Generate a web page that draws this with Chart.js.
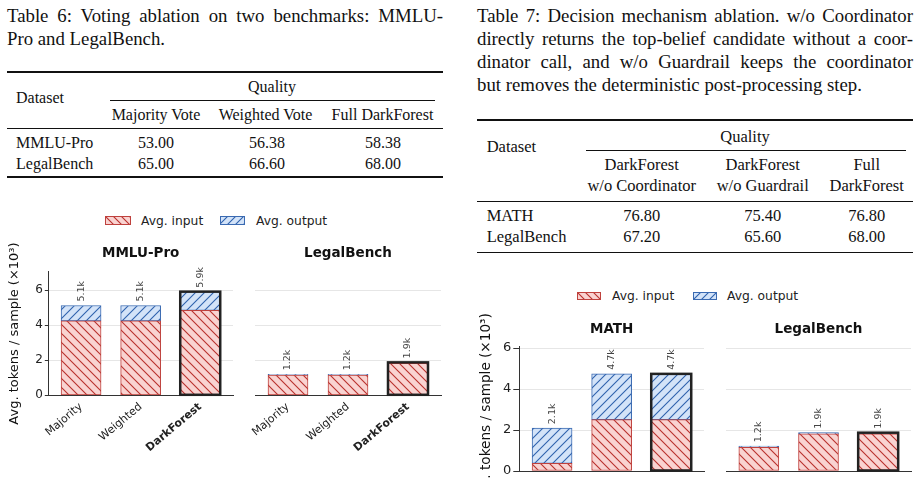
<!DOCTYPE html>
<html>
<head>
<meta charset="utf-8">
<script src="https://cdn.jsdelivr.net/npm/chart.js@4.4.1/dist/chart.umd.min.js"></script>
<style>
html, body { margin: 0; padding: 0; background: #fff; }
body { width: 923px; height: 478px; overflow: hidden; position: relative; }
.cap { position: absolute; font-family: "Liberation Serif", "Times New Roman", serif; color: #111; font-size: 18.8px; line-height: 23px; width: 436px; }
.cap div { text-align: justify; text-align-last: justify; }
.cap div.last { text-align-last: left; }
.t { position: absolute; font-family: "Liberation Serif", "Times New Roman", serif; color: #111; white-space: nowrap; line-height: 1; transform: translate(0, -50%); }
.t.c { transform: translate(-50%, -50%); }
.t6 { font-size: 16px; }
.t7 { font-size: 16.5px; }
.rule { position: absolute; background: #111; }
.lg { position: absolute; font-family: "DejaVu Sans", sans-serif; font-size: 12.3px; color: #222; white-space: nowrap; line-height: 1; transform: translate(0, -50%); }
canvas { position: absolute; }
</style>
</head>
<body>

<div class="cap" style="left:7px; top:3.5px;">
  <div>Table 6: Voting ablation on two benchmarks: MMLU-</div>
  <div class="last">Pro and LegalBench.</div>
</div>

<div class="rule" style="left:7px; top:71px; width:436px; height:1.6px;"></div>
<div class="t t6" style="left:16px; top:97.5px;">Dataset</div>
<div class="t t6 c" style="left:272px; top:87px;">Quality</div>
<div class="rule" style="left:110px; top:100.3px; width:325px; height:0.8px;"></div>
<div class="t t6 c" style="left:156px; top:115px;">Majority Vote</div>
<div class="t t6 c" style="left:265.5px; top:115px;">Weighted Vote</div>
<div class="t t6 c" style="left:382.5px; top:115px;">Full DarkForest</div>
<div class="rule" style="left:7px; top:128.2px; width:436px; height:1px;"></div>
<div class="t t6" style="left:16px; top:143px;">MMLU-Pro</div>
<div class="t t6 c" style="left:156px; top:143px;">53.00</div>
<div class="t t6 c" style="left:267px; top:143px;">56.38</div>
<div class="t t6 c" style="left:383px; top:143px;">58.38</div>
<div class="t t6" style="left:16px; top:164px;">LegalBench</div>
<div class="t t6 c" style="left:156px; top:164px;">65.00</div>
<div class="t t6 c" style="left:267px; top:164px;">66.60</div>
<div class="t t6 c" style="left:383px; top:164px;">68.00</div>
<div class="rule" style="left:7px; top:176.2px; width:436px; height:1.6px;"></div>

<div class="cap" style="left:477px; top:3.5px;">
  <div>Table 7: Decision mechanism ablation. w/o Coordinator</div>
  <div>directly returns the top-belief candidate without a coor-</div>
  <div>dinator call, and w/o Guardrail keeps the coordinator</div>
  <div class="last">but removes the deterministic post-processing step.</div>
</div>

<div class="rule" style="left:477px; top:119.2px; width:436px; height:1.6px;"></div>
<div class="t t7" style="left:486.7px; top:146.7px;">Dataset</div>
<div class="t t7 c" style="left:745px; top:136.7px;">Quality</div>
<div class="rule" style="left:585.7px; top:150.3px; width:320px; height:0.8px;"></div>
<div class="t t7 c" style="left:641.7px; top:165px;">DarkForest</div>
<div class="t t7 c" style="left:762.7px; top:165px;">DarkForest</div>
<div class="t t7 c" style="left:866.7px; top:165px;">Full</div>
<div class="t t7 c" style="left:641.7px; top:186px;">w/o Coordinator</div>
<div class="t t7 c" style="left:762.7px; top:186px;">w/o Guardrail</div>
<div class="t t7 c" style="left:866.7px; top:186px;">DarkForest</div>
<div class="rule" style="left:477px; top:200.5px; width:436px; height:1px;"></div>
<div class="t t7" style="left:486.7px; top:216px;">MATH</div>
<div class="t t7 c" style="left:641.7px; top:216px;">76.80</div>
<div class="t t7 c" style="left:762.7px; top:216px;">75.40</div>
<div class="t t7 c" style="left:866.7px; top:216px;">76.80</div>
<div class="t t7" style="left:486.7px; top:236.7px;">LegalBench</div>
<div class="t t7 c" style="left:641.7px; top:236.7px;">67.20</div>
<div class="t t7 c" style="left:762.7px; top:236.7px;">65.60</div>
<div class="t t7 c" style="left:866.7px; top:236.7px;">68.00</div>
<div class="rule" style="left:477px; top:251.5px; width:436px; height:1.6px;"></div>

<!-- legends -->
<canvas id="swR1" width="26" height="9" style="left:105px; top:216px;"></canvas>
<div class="lg" style="left:141px; top:221px;">Avg. input</div>
<canvas id="swB1" width="25" height="9" style="left:220px; top:216px;"></canvas>
<div class="lg" style="left:256px; top:221px;">Avg. output</div>

<canvas id="swR2" width="24" height="8" style="left:577px; top:292px;"></canvas>
<div class="lg" style="left:612px; top:295.7px;">Avg. input</div>
<canvas id="swB2" width="24" height="8" style="left:693px; top:292px;"></canvas>
<div class="lg" style="left:727px; top:295.7px;">Avg. output</div>

<canvas id="cMmlu" width="240" height="242" style="left:0px; top:236px;"></canvas>
<canvas id="cLegal6" width="246" height="242" style="left:200px; top:236px;"></canvas>
<canvas id="cMath" width="240" height="220" style="left:470px; top:312px;"></canvas>
<canvas id="cLegal7" width="257" height="220" style="left:660px; top:312px;"></canvas>

<script>
// Table 6 figure: voting ablation
const voteLabels = ['Majority', 'Weighted', 'DarkForest'];
const mmluInput = [4.25, 4.25, 4.85];
const mmluOutput = [0.88, 0.88, 1.07];
const legal6Input = [1.15, 1.15, 1.82];
const legal6Output = [0.05, 0.05, 0.06];

// Table 7 figure: decision mechanism ablation
const decisionLabels = ['w/o Coord.', 'w/o Guard.', 'DarkForest'];
const mathInput = [0.37, 2.51, 2.51];
const mathOutput = [1.72, 2.23, 2.23];
const legal7Input = [1.15, 1.81, 1.81];
const legal7Output = [0.06, 0.06, 0.06];

const yTicks = [0, 2, 4, 6];
const seriesNames = ['Avg. input', 'Avg. output'];
const yTitle = 'Avg. tokens / sample (×10³)';

Chart.defaults.font.family = 'DejaVu Sans';

function hatch(bg, fg, back, s) {
  const c = document.createElement('canvas');
  c.width = c.height = s;
  const g = c.getContext('2d');
  g.fillStyle = bg;
  g.fillRect(0, 0, s, s);
  g.strokeStyle = fg;
  g.lineWidth = 1.1;
  g.beginPath();
  if (back) {
    g.moveTo(0, 0); g.lineTo(s, s);
    g.moveTo(-s / 2, s / 2); g.lineTo(s / 2, s * 1.5);
    g.moveTo(s / 2, -s / 2); g.lineTo(s * 1.5, s / 2);
  } else {
    g.moveTo(0, s); g.lineTo(s, 0);
    g.moveTo(-s / 2, s / 2); g.lineTo(s / 2, -s / 2);
    g.moveTo(s / 2, s * 1.5); g.lineTo(s * 1.5, s / 2);
  }
  g.stroke();
  return g.createPattern(c, 'repeat');
}

const RED = ['#f9d3d1', '#b9312d', '#bf413d'];
const BLUE = ['#d3e3f8', '#2f62ad', '#3a6ab2'];

function swatch(id, col, back, s) {
  const cv = document.getElementById(id);
  const g = cv.getContext('2d');
  g.fillStyle = hatch(col[0], col[1], back, s);
  g.fillRect(0, 0, cv.width, cv.height);
  g.strokeStyle = col[2];
  g.lineWidth = 1;
  g.strokeRect(0.5, 0.5, cv.width - 1, cv.height - 1);
}
swatch('swR1', RED, true, 8);
swatch('swB1', BLUE, false, 8);
swatch('swR2', RED, true, 8);
swatch('swB2', BLUE, false, 8);

// totals above stacks + dark outline on the DarkForest stack
const barExtras = {
  id: 'barExtras',
  afterDatasetsDraw(chart, args, opts) {
    const ctx = chart.ctx;
    const lo = chart.getDatasetMeta(0).data;
    const hi = chart.getDatasetMeta(1).data;
    const ds = chart.data.datasets;
    lo.forEach((bar, i) => {
      const top = hi[i].y;
      const total = ds[0].data[i].y + ds[1].data[i].y;
      if (i === opts.highlight) {
        ctx.save();
        ctx.strokeStyle = '#222';
        ctx.lineWidth = 2.5;
        ctx.strokeRect(bar.x - bar.width / 2, top, bar.width, bar.base - top);
        ctx.restore();
      }
      ctx.save();
      ctx.translate(bar.x, top - 4);
      ctx.rotate(-Math.PI / 2);
      ctx.font = '9.5px "DejaVu Sans"';
      ctx.fillStyle = '#444';
      ctx.textAlign = 'left';
      ctx.textBaseline = 'middle';
      ctx.fillText(total.toFixed(1) + 'k', 0, 0);
      ctx.restore();
    });
  }
};

function makeChart(id, title, labels, input, output, o) {
  return new Chart(document.getElementById(id), {
    type: 'bar',
    data: {
      datasets: [
        {label: seriesNames[0], data: input.map((v, i) => ({x: i, y: v})),
         backgroundColor: hatch(RED[0], RED[1], true, o.hs), borderColor: RED[2],
         borderWidth: 1, borderSkipped: false, barThickness: 40},
        {label: seriesNames[1], data: output.map((v, i) => ({x: i, y: v})),
         backgroundColor: hatch(BLUE[0], BLUE[1], false, o.hs), borderColor: BLUE[2],
         borderWidth: 1, borderSkipped: false, barThickness: 40}
      ]
    },
    options: {
      responsive: false,
      animation: false,
      layout: {padding: {left: 0, right: o.padR, top: 0, bottom: 0}},
      plugins: {
        legend: {display: false},
        tooltip: {enabled: false},
        title: {display: true, text: title, fullSize: false, color: '#111',
                font: {family: 'DejaVu Sans', size: 13.5, weight: 'bold'},
                padding: {top: o.tTop, bottom: o.tBot}},
        barExtras: {highlight: 2}
      },
      scales: {
        x: {
          type: 'linear', stacked: true, min: -0.55, max: 2.55, offset: false,
          afterBuildTicks: s => { s.ticks = labels.map((l, i) => ({value: i})); },
          afterFit: s => { s.height = o.xH; },
          grid: {display: false, drawTicks: false},
          border: {color: '#333', width: 1},
          ticks: {
            autoSkip: false, minRotation: 40, maxRotation: 40, padding: 5, color: '#222',
            callback: v => labels[v],
            font: c => ({family: 'DejaVu Sans', size: 11, weight: c.index === 2 ? 'bold' : 'normal'})
          }
        },
        y: {
          stacked: true, min: 0, max: o.yMax,
          afterBuildTicks: s => { s.ticks = yTicks.map(v => ({value: v})); },
          afterFit: s => { s.width = o.yW; },
          grid: {color: '#e6e6e6', drawTicks: o.showY, tickLength: o.tl, tickColor: '#333'},
          border: {display: o.showY, color: '#333', width: 1},
          ticks: {display: o.showY, padding: 2, color: '#222', font: {family: 'DejaVu Sans', size: o.ts}},
          title: {display: o.showY, text: yTitle, color: '#111',
                  font: {family: 'DejaVu Sans', size: o.yts}, padding: {top: o.ytp, bottom: 0}}
        }
      }
    },
    plugins: [barExtras]
  });
}

makeChart('cMmlu', 'MMLU-Pro', voteLabels, mmluInput, mmluOutput,
  {yMax: 7.06, showY: true, yW: 48.3, xH: 82.7, padR: 7, tTop: 8.9, tBot: 10.6, ts: 12, tl: 3.5, ytp: 7.2, yts: 13, hs: 9});
makeChart('cLegal6', 'LegalBench', voteLabels, legal6Input, legal6Output,
  {yMax: 7.06, showY: false, yW: 55, xH: 82.7, padR: 5, tTop: 8.9, tBot: 10.6, ts: 12, tl: 3.5, ytp: 0, yts: 13, hs: 9});
makeChart('cMath', 'MATH', decisionLabels, mathInput, mathOutput,
  {yMax: 6.1, showY: true, yW: 49.3, xH: 61, padR: 6, tTop: 8.9, tBot: 8.9, ts: 13, tl: 6, ytp: 8.8, yts: 13.6, hs: 9});
makeChart('cLegal7', 'LegalBench', decisionLabels, legal7Input, legal7Output,
  {yMax: 6.1, showY: false, yW: 66, xH: 61, padR: 6, tTop: 8.9, tBot: 8.9, ts: 13, tl: 6, ytp: 0, yts: 13, hs: 9});
</script>
</body>
</html>
